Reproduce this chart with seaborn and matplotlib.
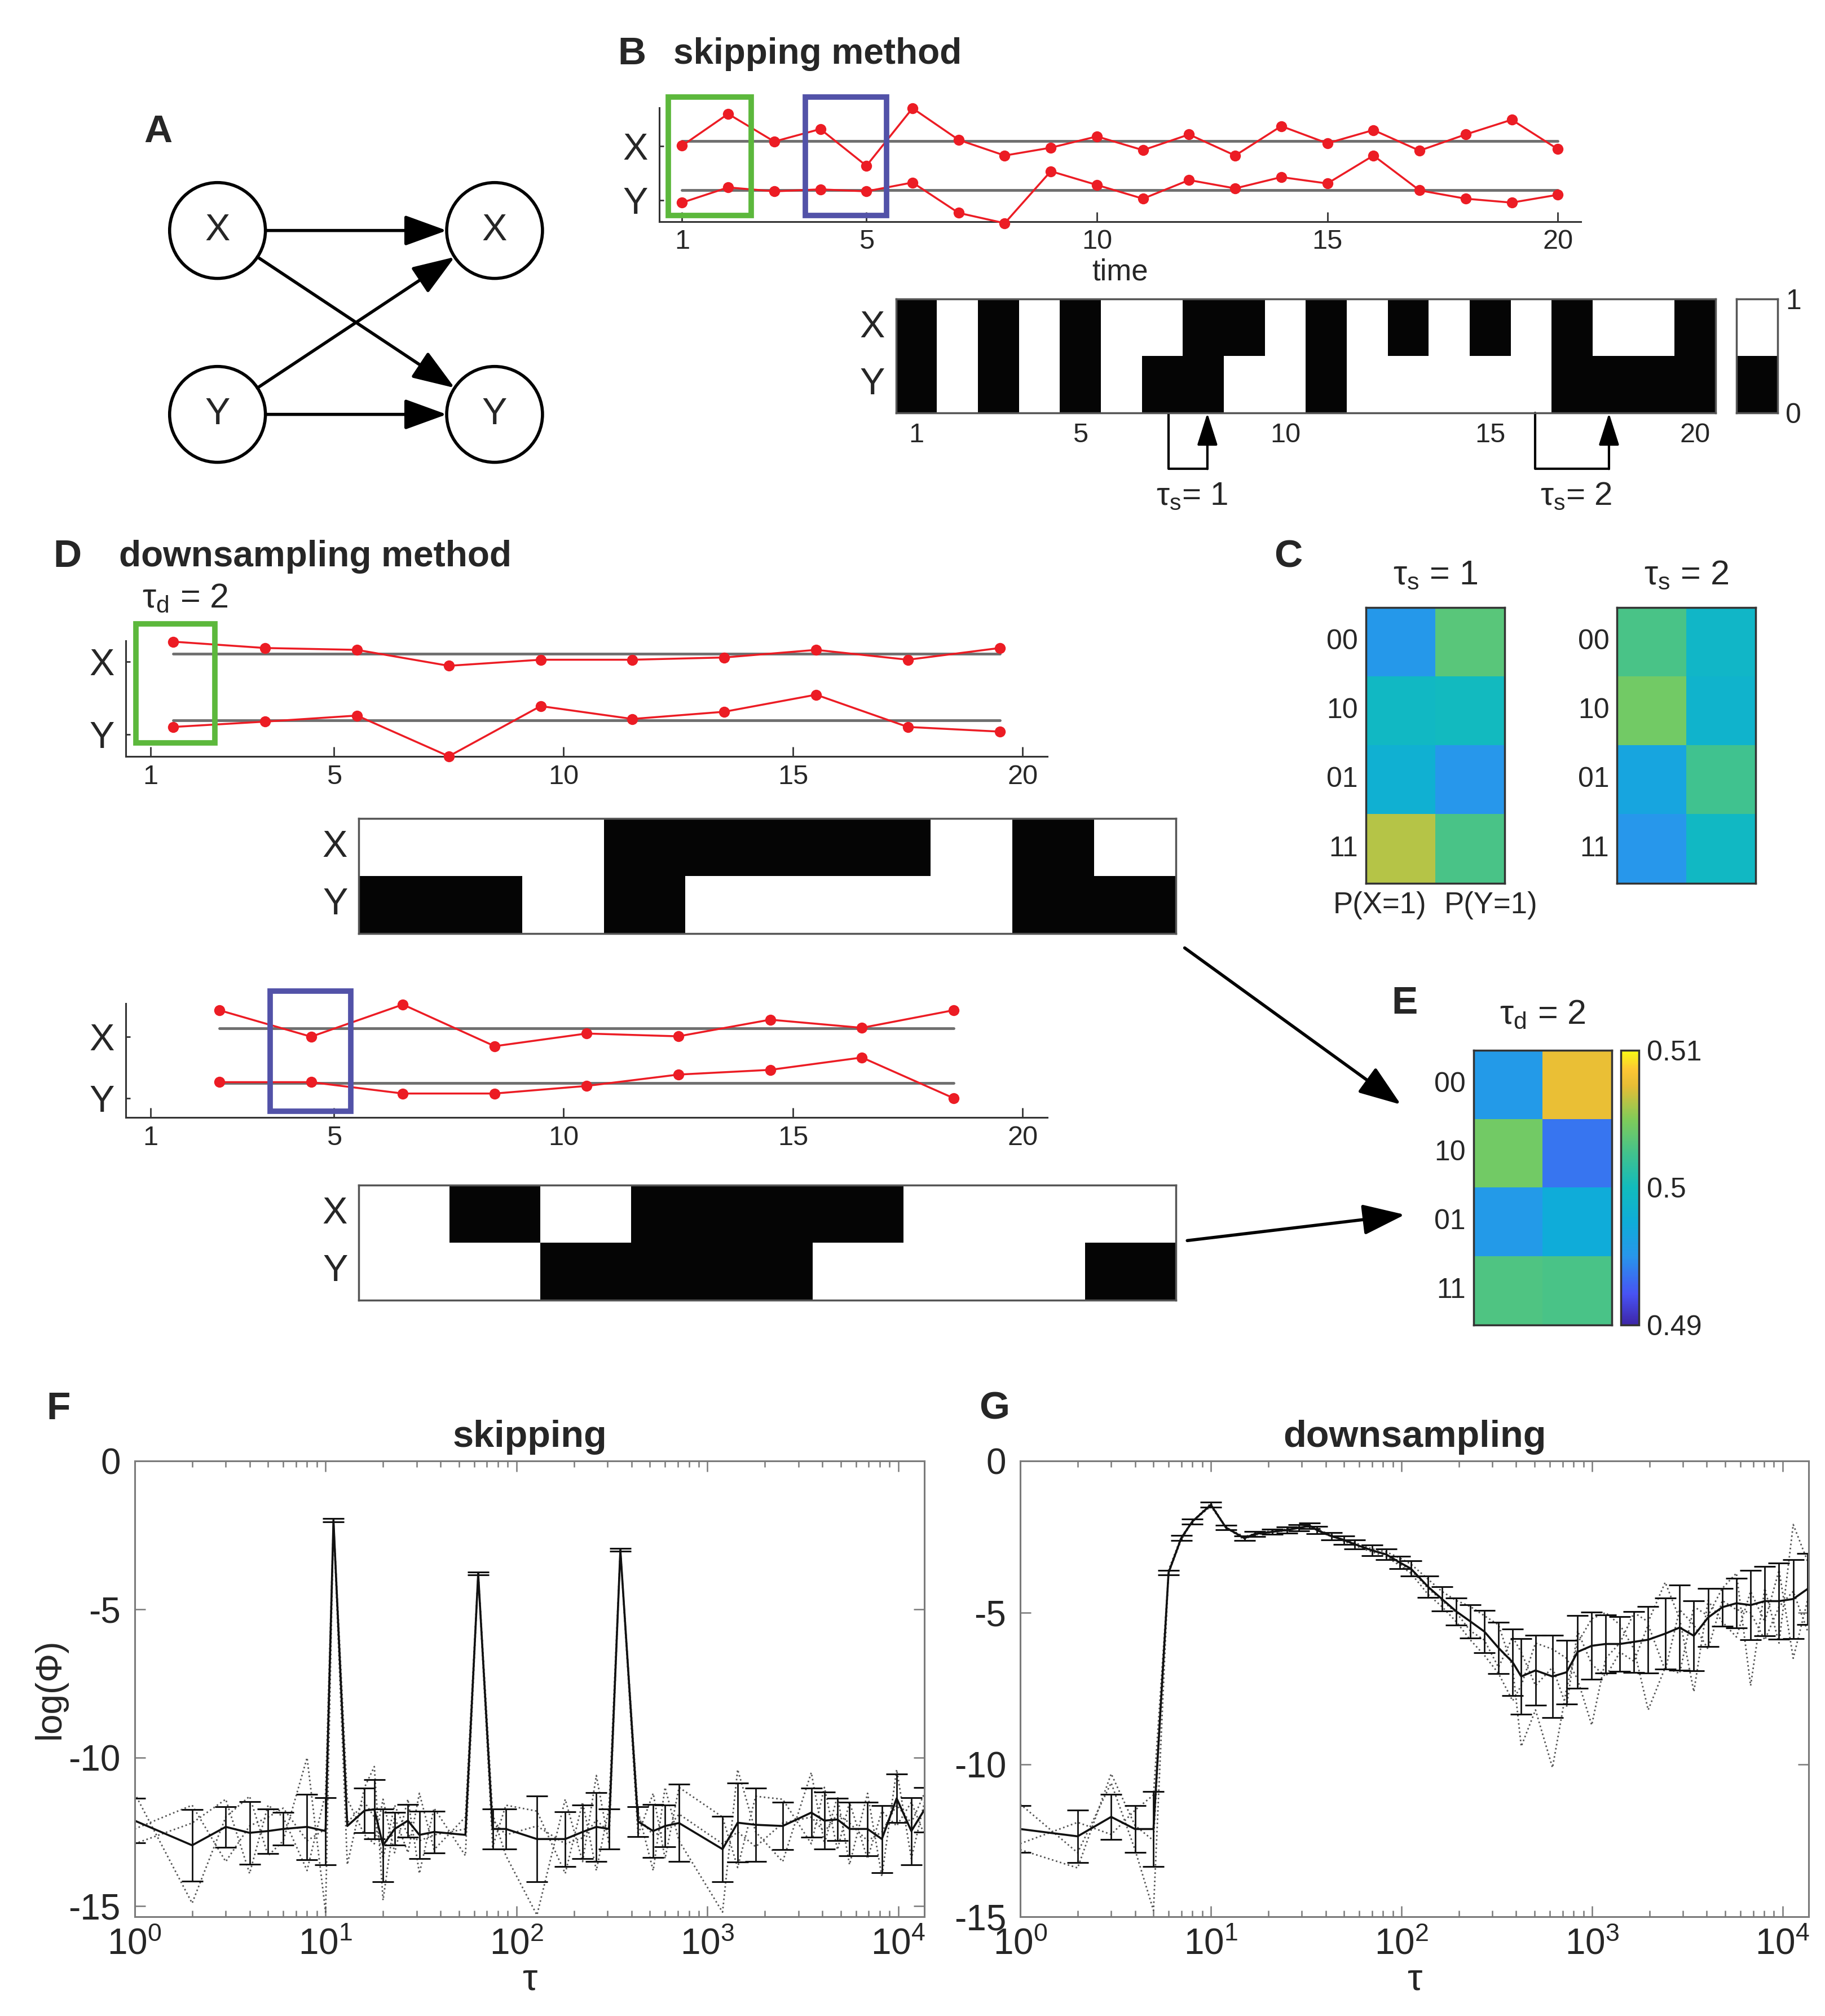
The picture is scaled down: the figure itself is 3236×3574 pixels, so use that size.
import numpy as np
import matplotlib
matplotlib.use("Agg")
import matplotlib.pyplot as plt
import matplotlib.transforms as mtransforms
from matplotlib.colors import LinearSegmentedColormap, ListedColormap
from matplotlib.patches import Circle, Rectangle, FancyArrowPatch
from matplotlib.ticker import FixedLocator, LogLocator, NullFormatter
import seaborn as sns

# ======================= DATA =======================
# Panel A
node_labels = ["X", "Y", "X", "Y"]

# Panel B : skipping method
t_skip = np.arange(1, 21)
x_skip = [0.90, 1.55, 0.985, 1.24, 0.49, 1.665, 1.02, 0.70, 0.86, 1.09,
          0.81, 1.13, 0.70, 1.30, 0.95, 1.22, 0.80, 1.13, 1.43, 0.83]
y_skip = [-0.26, 0.05, -0.03, 0.01, -0.03, 0.15, -0.47, -0.68, 0.38, 0.10,
          -0.18, 0.20, 0.03, 0.26, 0.13, 0.70, -0.01, -0.18, -0.26, -0.10]
x_bin_skip = [0, 1, 0, 1, 0, 1, 1, 0, 0, 1, 0, 1, 0, 1, 0, 1, 0, 1, 1, 0]
y_bin_skip = [0, 1, 0, 1, 0, 1, 0, 0, 1, 1, 0, 1, 1, 1, 1, 1, 0, 0, 0, 0]
time_ticks = [1, 5, 10, 15, 20]
tau_s_spans = [(7.15, 8.1), (16.1, 17.9)]
tau_s_values = ["1", "2"]

# Panel D : downsampling method (two phases)
t_down1 = [1.5, 3.5, 5.5, 7.5, 9.5, 11.5, 13.5, 15.5, 17.5, 19.5]
x_down1 = [1.18, 1.085, 1.057, 0.818, 0.909, 0.909, 0.943, 1.057, 0.909, 1.085]
y_down1 = [-0.10, -0.02, 0.071, -0.54, 0.213, 0.02, 0.128, 0.384, -0.10, -0.17]
x_bin_down1 = [1, 1, 1, 0, 0, 0, 0, 1, 0, 1]
y_bin_down1 = [0, 0, 1, 0, 1, 1, 1, 1, 0, 0]

t_down2 = [2.5, 4.5, 6.5, 8.5, 10.5, 12.5, 14.5, 16.5, 18.5]
x_down2 = [1.328, 0.845, 1.431, 0.672, 0.903, 0.852, 1.155, 1.007, 1.328]
y_down2 = [0.017, 0.017, -0.19, -0.19, -0.052, 0.155, 0.241, 0.466, -0.276]
x_bin_down2 = [1, 0, 1, 0, 0, 0, 1, 1, 1]
y_bin_down2 = [1, 1, 0, 0, 0, 1, 1, 1, 0]

# Panel C / E : conditional probabilities
state_labels = ["00", "10", "01", "11"]
prob_labels = ["P(X=1)", "P(Y=1)"]
c_tau_s1 = [[0.4952, 0.5034], [0.4994, 0.4998], [0.4980, 0.4950], [0.5062, 0.5028]]
c_tau_s2 = [[0.5028, 0.4990], [0.5044, 0.4986], [0.4966, 0.5024], [0.4950, 0.4994]]
e_tau_d2 = [[0.4954, 0.5076], [0.5044, 0.4936], [0.4954, 0.4974], [0.5030, 0.5028]]
prob_ticks = [0.49, 0.5, 0.51]

# Panel F : skipping
tau_f = [1, 2, 3, 4, 5, 6, 8, 10, 11, 13, 16, 18, 20, 23, 27, 31, 37, 54, 63, 75,
         88, 128, 180, 222, 262, 305, 350, 433, 520, 600, 710, 1200, 1440, 1790, 2480,
         3500, 4100, 4800, 5550, 6900, 8200, 9800, 11700, 13700]
mean_f = [-12.12, -12.95, -12.33, -12.53, -12.47, -12.4, -12.33, -12.47, -2.0, -12.3,
          -11.78, -11.74, -12.95, -12.4, -12.12, -12.6, -12.5, -12.6, -3.8, -12.4,
          -12.4, -12.74, -12.74, -12.5, -12.33, -12.4, -3.0, -12.15, -12.47, -12.3,
          -12.2, -13.08, -12.19, -12.26, -12.3, -11.85, -12.12, -12.08, -12.4, -12.4,
          -12.74, -11.37, -12.47, -11.75]
err_f = [0.75, 1.2, 0.68, 1.05, 0.75, 0.55, 1.1, 1.13, 0.05, 0.0,
         0.75, 1.0, 1.23, 0.55, 0.55, 0.8, 0.7, 0.0, 0.05, 0.68,
         0.68, 1.44, 0.92, 0.9, 1.16, 0.68, 0.05, 0.5, 0.9, 0.7,
         1.3, 1.1, 1.33, 1.23, 0.8, 0.82, 0.96, 0.72, 0.9, 0.9,
         1.13, 0.82, 1.13, 0.75]
trial_f_a = [-11.2, -14.9, -12.0, -11.3, -13.3, -12.8, -10.0, -15.2, -2.0, -13.6,
             -11.0, -10.3, -14.8, -12.0, -13.2, -11.2, -13.1, -12.0, -3.8, -11.9,
             -13.3, -15.3, -11.4, -13.5, -10.6, -12.9, -3.0, -11.8, -13.8, -11.0,
             -12.8, -15.2, -10.4, -12.5, -13.5, -10.5, -12.9, -11.3, -13.6, -11.2,
             -14.0, -10.4, -13.4, -11.5]
trial_f_b = [-12.9, -12.2, -11.4, -13.9, -11.6, -12.0, -13.8, -11.2, -2.0, -11.4,
             -12.6, -12.9, -11.4, -13.2, -11.4, -13.9, -11.7, -13.3, -3.8, -13.0,
             -11.6, -11.8, -13.9, -11.5, -13.8, -11.7, -3.0, -12.6, -11.2, -13.4,
             -11.0, -12.0, -13.7, -11.3, -11.4, -12.9, -11.0, -13.1, -11.5, -13.4,
             -11.8, -12.3, -11.5, -12.6]
trial_f_c = [-12.4, -11.6, -13.5, -12.3, -12.0, -11.7, -12.8, -12.4, -2.0, -12.2,
             -11.5, -12.0, -13.4, -11.6, -12.6, -12.8, -12.6, -12.4, -3.8, -12.1,
             -12.6, -12.3, -12.9, -12.7, -12.1, -12.5, -3.0, -12.0, -12.6, -12.5,
             -11.9, -12.9, -12.5, -13.0, -12.2, -12.0, -12.5, -11.9, -12.2, -12.8,
             -12.5, -11.6, -12.2, -11.2]

# Panel G : downsampling
tau_g = [1, 2, 3, 4, 5, 6, 7, 8, 10, 12, 15, 17, 21, 25, 29, 33, 36, 43, 50, 57,
         70, 83, 98, 112, 138, 163, 194, 230, 272, 323, 383, 425, 505, 620, 735, 840,
         996, 1180, 1400, 1660, 1970, 2420, 2880, 3420, 4060, 4820, 5720, 6790, 8060,
         9570, 11360, 13500]
mean_g = [-12.12, -12.36, -11.72, -12.12, -12.12, -3.68, -2.54, -2.0, -1.45, -2.2,
          -2.55, -2.41, -2.34, -2.28, -2.21, -2.14, -2.28, -2.48, -2.61, -2.75,
          -2.95, -3.08, -3.35, -3.55, -4.15, -4.55, -4.96, -5.29, -5.62, -6.16,
          -6.63, -7.1, -6.9, -7.1, -6.96, -6.29, -6.09, -6.03, -6.03, -5.96,
          -5.89, -5.69, -5.49, -5.76, -5.16, -4.82, -4.69, -4.75, -4.62, -4.62,
          -4.55, -4.22]
err_g = [0.77, 0.87, 0.74, 0.77, 1.24, 0.08, 0.08, 0.08, 0.08, 0.08,
         0.08, 0.08, 0.08, 0.1, 0.1, 0.1, 0.12, 0.12, 0.14, 0.15,
         0.17, 0.18, 0.2, 0.25, 0.35, 0.4, 0.45, 0.55, 0.7, 0.85,
         1.1, 1.25, 1.15, 1.35, 1.05, 1.2, 1.1, 0.95, 0.9, 1.0,
         1.1, 1.17, 1.4, 1.15, 0.95, 0.62, 0.82, 1.15, 1.15, 1.25,
         1.3, 1.17]
trial_g_a = [-11.3, -12.9, -10.6, -12.8, -14.8, -3.6, -2.5, -2.0, -1.5, -2.2,
             -2.5, -2.4, -2.3, -2.3, -2.2, -2.1, -2.3, -2.5, -2.6, -2.7,
             -2.9, -3.0, -3.2, -3.4, -3.9, -4.3, -4.6, -4.8, -5.1, -5.4,
             -6.8, -9.4, -8.2, -10.1, -7.5, -6.0, -5.2, -5.0, -5.4, -6.2,
             -8.2, -6.8, -7.0, -4.8, -5.1, -4.2, -3.7, -7.4, -4.2, -6.0,
             -2.1, -3.3]
trial_g_b = [-12.6, -11.9, -12.3, -11.5, -11.0, -3.7, -2.6, -2.0, -1.4, -2.2,
             -2.6, -2.4, -2.35, -2.25, -2.2, -2.15, -2.25, -2.45, -2.65, -2.8,
             -3.0, -3.15, -3.45, -3.7, -4.4, -4.8, -5.3, -5.9, -6.4, -7.0,
             -7.9, -7.4, -6.0, -6.2, -6.5, -7.2, -8.7, -6.5, -6.0, -5.0,
             -5.3, -4.0, -5.2, -7.6, -4.6, -5.3, -5.8, -4.3, -5.3, -3.6,
             -6.5, -4.6]
trial_g_c = [-12.8, -13.4, -10.3, -12.0, -12.5, -3.7, -2.55, -2.0, -1.45, -2.2,
             -2.55, -2.45, -2.35, -2.3, -2.2, -2.15, -2.3, -2.5, -2.6, -2.75,
             -2.95, -3.1, -3.4, -3.6, -4.2, -4.6, -5.0, -5.6, -5.9, -6.8,
             -5.8, -6.3, -7.4, -6.8, -8.1, -5.6, -6.7, -7.1, -6.3, -6.6,
             -5.4, -6.9, -4.9, -5.4, -6.2, -4.6, -4.9, -5.0, -5.9, -4.8,
             -4.3, -5.6]
phi_yticks = [0, -5, -10, -15]

# ======================= STYLE =======================
sns.set_style("ticks")
plt.rcParams["font.family"] = ["Liberation Sans", "DejaVu Sans"]
plt.rcParams["axes.unicode_minus"] = False
plt.rcParams["mathtext.default"] = "regular"

RED = "#ec1c24"
GREEN = "#5cb83c"
BLUE = "#5252a8"
BASE = "#6f6f6f"
SPINE = "#333333"

parula = LinearSegmentedColormap.from_list("parula", [
    (0.00, (0.2422, 0.1504, 0.6603)),
    (0.11, (0.2810, 0.3228, 0.9579)),
    (0.25, (0.1540, 0.5902, 0.9218)),
    (0.37, (0.0589, 0.6750, 0.8500)),
    (0.50, (0.0700, 0.7350, 0.7400)),
    (0.62, (0.2500, 0.7600, 0.5600)),
    (0.75, (0.5044, 0.7993, 0.3480)),
    (0.87, (0.9000, 0.7400, 0.2100)),
    (0.93, (0.9932, 0.7760, 0.2035)),
    (1.00, (0.9769, 0.9839, 0.0805)),
])
bw = ListedColormap(["#050505", "#ffffff"])

W_PX, H_PX = 3237, 3574
fig = plt.figure(figsize=(W_PX / 100, H_PX / 100), dpi=100)
fig.patch.set_facecolor("white")
WD = 1410.0
HD = H_PX * WD / W_PX


def fx(x):
    return x / WD


def fy(y):
    return 1 - y / HD


def add_ax(x0, y0, x1, y1):
    return fig.add_axes([fx(x0), fy(y1), fx(x1) - fx(x0), fy(y0) - fy(y1)])


def ftext(x, y, s, **kw):
    fig.text(fx(x), fy(y), s, ha=kw.pop("ha", "center"), va=kw.pop("va", "center"), **kw)


def arrow_style(hl, hw):
    return "-|>,head_length=%g,head_width=%g" % (hl, hw)


# ======================= PANEL A =======================
ftext(122, 102, "A", fontsize=50, fontweight="bold")
axA = add_ax(100, 80, 430, 370)
axA.set_xlim(100, 430)
axA.set_ylim(370, 80)
axA.axis("off")
centers = [(168, 178), (168, 320), (382, 178), (382, 320)]
R = 37
for (cx, cy), lab in zip(centers, node_labels):
    axA.add_patch(Circle((cx, cy), R, fill=False, lw=4, ec="black"))
    axA.text(cx, cy, lab, ha="center", va="center", fontsize=48)
for a, b in [(0, 2), (0, 3), (1, 2), (1, 3)]:
    p, q = np.array(centers[a], float), np.array(centers[b], float)
    u = (q - p) / np.linalg.norm(q - p)
    axA.add_patch(FancyArrowPatch(tuple(p + R * u), tuple(q - R * u), arrowstyle=arrow_style(1.1, 0.4),
                                  mutation_scale=42, lw=4, color="black", shrinkA=0, shrinkB=0))


# ======================= helpers =======================
def series_panel(ax, t, xs, ys, xlim, ylim, yt, span):
    ax.plot(span, [1, 1], color=BASE, lw=3.5, zorder=1)
    ax.plot(span, [0, 0], color=BASE, lw=3.5, zorder=1)
    for vals in (xs, ys):
        sns.lineplot(x=np.asarray(t), y=np.asarray(vals), ax=ax, color=RED, lw=2.5, marker="o",
                     markersize=14, markeredgewidth=0, clip_on=False, zorder=3)
    ax.set_xlim(*xlim)
    ax.set_ylim(*ylim)
    ax.spines["top"].set_visible(False)
    ax.spines["right"].set_visible(False)
    for s in ("left", "bottom"):
        ax.spines[s].set_color(SPINE)
        ax.spines[s].set_linewidth(2.2)
    ax.set_xticks(time_ticks)
    ax.set_xticklabels([str(v) for v in time_ticks])
    ax.set_yticks(yt)
    ax.set_yticklabels(["X", "Y"])
    ax.tick_params(axis="x", direction="in", length=12, width=2, labelsize=35, pad=10, color=SPINE)
    ax.tick_params(axis="y", direction="in", length=6, width=2, labelsize=48, pad=14, color=SPINE)
    ax.set_facecolor("none")


def binary_panel(ax, xrow, yrow, xt_pos=None, xt_lab=None, cell_ticks=False):
    data = np.array([xrow, yrow])
    sns.heatmap(data, ax=ax, cmap=bw, vmin=0, vmax=1, cbar=False)
    for s in ax.spines.values():
        s.set_visible(True)
        s.set_color("#555555")
        s.set_linewidth(2.5)
    n = data.shape[1]
    if cell_ticks:
        ax.set_xticks(np.arange(n) + 0.5)
        ax.set_xticklabels([])
    else:
        ax.set_xticks(xt_pos)
        ax.set_xticklabels(xt_lab, rotation=0)
    ax.set_yticks([0.5, 1.5])
    ax.set_yticklabels(["X", "Y"], rotation=0)
    ax.tick_params(axis="x", direction="in", top=True, bottom=True, length=12, width=2,
                   labelsize=35, pad=12, color="#444444")
    ax.tick_params(axis="y", direction="in", left=True, right=False, length=4, width=2,
                   labelsize=48, pad=14, color="#444444")
    ax.set_xlabel("")
    ax.set_ylabel("")


# ======================= PANEL B =======================
ftext(488, 42, "B", fontsize=50, fontweight="bold")
ftext(520, 42, "skipping method", fontsize=46, fontweight="bold", ha="left")

axB = add_ax(509, 83, 1221, 171)
series_panel(axB, t_skip, x_skip, y_skip, (0.5, 20.5), (-0.644, 1.68), [0.897, -0.216], [1, 20])
axB.set_xlabel("time", fontsize=38, labelpad=4)
axB.add_patch(Rectangle((0.70, -0.527), 1.80, 2.423, fill=False, ec=GREEN, lw=7, clip_on=False, zorder=4))
axB.add_patch(Rectangle((3.68, -0.527), 1.76, 2.423, fill=False, ec=BLUE, lw=7, clip_on=False, zorder=4))

axBb = add_ax(692, 231, 1325, 319)
binary_panel(axBb, x_bin_skip, y_bin_skip, [v - 0.5 for v in time_ticks], [str(v) for v in time_ticks])
trB = mtransforms.blended_transform_factory(axBb.transData, axBb.transAxes)
for (ta, tb), lab in zip(tau_s_spans, tau_s_values):
    xa, xb = ta - 0.5, tb - 0.5
    axBb.plot([xa, xa, xb], [0, -0.49, -0.49], transform=trB, color="black", lw=3, clip_on=False)
    axBb.add_patch(FancyArrowPatch((xb, -0.49), (xb, 0.0), transform=trB, arrowstyle=arrow_style(1.1, 0.35),
                                   mutation_scale=32, lw=3, color="black", shrinkA=0, shrinkB=0,
                                   clip_on=False))
    axBb.text((xa + xb) / 2 + 0.1, -0.73, "τ$_{s}$= " + lab, transform=trB, ha="center", va="center",
              fontsize=42)

axBc = add_ax(1341, 231, 1373, 319)
sns.heatmap(np.array([[1], [0]]), ax=axBc, cmap=bw, vmin=0, vmax=1, cbar=False)
for s in axBc.spines.values():
    s.set_visible(True)
    s.set_color("#555555")
    s.set_linewidth(2.5)
axBc.set_xticks([])
axBc.yaxis.tick_right()
axBc.set_yticks([0, 2])
axBc.set_yticklabels(["1", "0"], rotation=0)
axBc.tick_params(axis="y", length=0, labelsize=36, pad=10)

# ======================= PANEL D =======================
ftext(52, 430, "D", fontsize=50, fontweight="bold")
ftext(92, 430, "downsampling method", fontsize=46, fontweight="bold", ha="left")
ftext(143, 462, "τ$_{d}$ = 2", fontsize=44)

axD1 = add_ax(97, 495, 809, 584)
series_panel(axD1, t_down1, x_down1, y_down1, (0.46, 20.54), (-0.54, 1.19), [0.88, -0.213],
             [t_down1[0], t_down1[-1]])
axD1.add_patch(Rectangle((0.68, -0.34), 1.73, 1.79, fill=False, ec=GREEN, lw=7, clip_on=False, zorder=4))

axD1b = add_ax(277, 632, 908, 721)
binary_panel(axD1b, x_bin_down1, y_bin_down1, cell_ticks=True)

axD2 = add_ax(97, 775, 809, 863)
series_panel(axD2, t_down2, x_down2, y_down2, (0.46, 20.54), (-0.628, 1.448), [0.845, -0.276],
             [t_down2[0], t_down2[-1]])
axD2.add_patch(Rectangle((3.61, -0.517), 1.76, 2.19, fill=False, ec=BLUE, lw=7, clip_on=False, zorder=4))

axD2b = add_ax(277, 915, 908, 1004)
binary_panel(axD2b, x_bin_down2, y_bin_down2, cell_ticks=True)


# ======================= PANEL C / E =======================
def prob_panel(ax, data, title, xlabels):
    sns.heatmap(np.array(data), ax=ax, cmap=parula, vmin=prob_ticks[0], vmax=prob_ticks[-1], cbar=False)
    for s in ax.spines.values():
        s.set_visible(True)
        s.set_color(SPINE)
        s.set_linewidth(2.5)
    ax.set_yticks(np.arange(4) + 0.5)
    ax.set_yticklabels(state_labels, rotation=0)
    ax.set_xticks([0.5, 1.5])
    ax.set_xticklabels([])
    if xlabels:
        trx = mtransforms.blended_transform_factory(ax.transData, ax.transAxes)
        for xv, lab in zip([0.2, 1.8], prob_labels):
            ax.text(xv, -0.08, lab, transform=trx, ha="center", va="center", fontsize=38)
    ax.tick_params(direction="in", top=True, bottom=True, left=True, right=True, length=7, width=2,
                   labelsize=36, pad=10, color="#222222")
    ax.set_title(title, fontsize=44, pad=30)
    ax.set_xlabel("")
    ax.set_ylabel("")


ftext(995, 430, "C", fontsize=50, fontweight="bold")
axC1 = add_ax(1055, 469, 1162, 682)
prob_panel(axC1, c_tau_s1, "τ$_{s}$ = 1", True)
axC2 = add_ax(1249, 469, 1356, 682)
prob_panel(axC2, c_tau_s2, "τ$_{s}$ = 2", False)

ftext(1085, 775, "E", fontsize=50, fontweight="bold")
axE = add_ax(1138, 811, 1245, 1023)
caxE = add_ax(1252, 811, 1266, 1023)
sns.heatmap(np.array(e_tau_d2), ax=axE, cmap=parula, vmin=prob_ticks[0], vmax=prob_ticks[-1],
            cbar=True, cbar_ax=caxE)
for s in axE.spines.values():
    s.set_visible(True)
    s.set_color(SPINE)
    s.set_linewidth(2.5)
axE.set_yticks(np.arange(4) + 0.5)
axE.set_yticklabels(state_labels, rotation=0)
axE.set_xticks([0.5, 1.5])
axE.set_xticklabels([])
axE.tick_params(direction="in", top=True, bottom=True, left=True, right=True, length=7, width=2,
                labelsize=36, pad=10, color="#222222")
axE.set_title("τ$_{d}$ = 2", fontsize=44, pad=34)
cbE = axE.collections[0].colorbar
cbE.set_ticks(prob_ticks)
cbE.set_ticklabels(["0.49", "0.5", "0.51"])
cbE.ax.yaxis.set_minor_locator(FixedLocator([0.495, 0.505]))
cbE.ax.tick_params(which="both", direction="in", length=6, width=2, labelsize=36, pad=10, color="#222222")
cbE.outline.set_edgecolor(SPINE)
cbE.outline.set_linewidth(2.5)

# arrows D -> E
for (xa, ya), (xb, yb) in [((915, 732), (1082, 853)), ((917, 958), (1085, 938))]:
    fig.add_artist(FancyArrowPatch((fx(xa), fy(ya)), (fx(xb), fy(yb)), transform=fig.transFigure,
                                   arrowstyle=arrow_style(1.1, 0.4), mutation_scale=42, lw=4,
                                   color="black", shrinkA=0, shrinkB=0))


# ======================= PANELS F / G =======================
def phi_panel(ax, tau, mean, err, trials, ylim, title, ylabel):
    tau = np.asarray(tau, float)
    mean = np.asarray(mean, float)
    err = np.asarray(err, float)
    for tr in trials:
        sns.lineplot(x=tau, y=np.asarray(tr, float), ax=ax, color="#555555", lw=2.0, linestyle=":")
    sns.lineplot(x=tau, y=mean, ax=ax, color="#111111", lw=2.6)
    m = err > 0
    ax.errorbar(tau[m], mean[m], yerr=err[m], fmt="none", ecolor="#111111", elinewidth=2.0,
                capsize=14, capthick=2.2)
    ax.set_xscale("log")
    ax.set_xlim(1, 1.37e4)
    ax.set_ylim(*ylim)
    ax.set_yticks(phi_yticks)
    ax.set_yticklabels([str(v) for v in phi_yticks])
    ax.xaxis.set_major_locator(LogLocator(base=10, numticks=10))
    ax.xaxis.set_minor_locator(LogLocator(base=10, subs=np.arange(2, 10), numticks=50))
    ax.xaxis.set_minor_formatter(NullFormatter())
    for s in ax.spines.values():
        s.set_visible(True)
        s.set_color("#7a7a7a")
        s.set_linewidth(2.2)
    ax.tick_params(which="both", direction="in", top=True, right=True, color="#7a7a7a", width=1.8)
    ax.tick_params(which="major", length=14, labelsize=46)
    ax.tick_params(axis="x", which="major", pad=14)
    ax.tick_params(axis="y", which="major", pad=18)
    ax.tick_params(which="minor", length=8)
    ax.set_title(title, fontsize=48, fontweight="bold", pad=18)
    ax.set_xlabel("τ", fontsize=48, labelpad=2)
    if ylabel:
        ax.set_ylabel(ylabel, fontsize=46, labelpad=2)
    else:
        ax.set_ylabel("")


ftext(45, 1088, "F", fontsize=50, fontweight="bold")
axF = add_ax(104, 1128, 714, 1480)
phi_panel(axF, tau_f, mean_f, err_f, [trial_f_a, trial_f_b, trial_f_c], (-15.35, 0), "skipping", "log(Φ)")

ftext(768, 1088, "G", fontsize=50, fontweight="bold")
axG = add_ax(788, 1128, 1397, 1480)
phi_panel(axG, tau_g, mean_g, err_g, [trial_g_a, trial_g_b, trial_g_c], (-15, 0), "downsampling", None)

fig.savefig("out.png", dpi=100, facecolor="white")
